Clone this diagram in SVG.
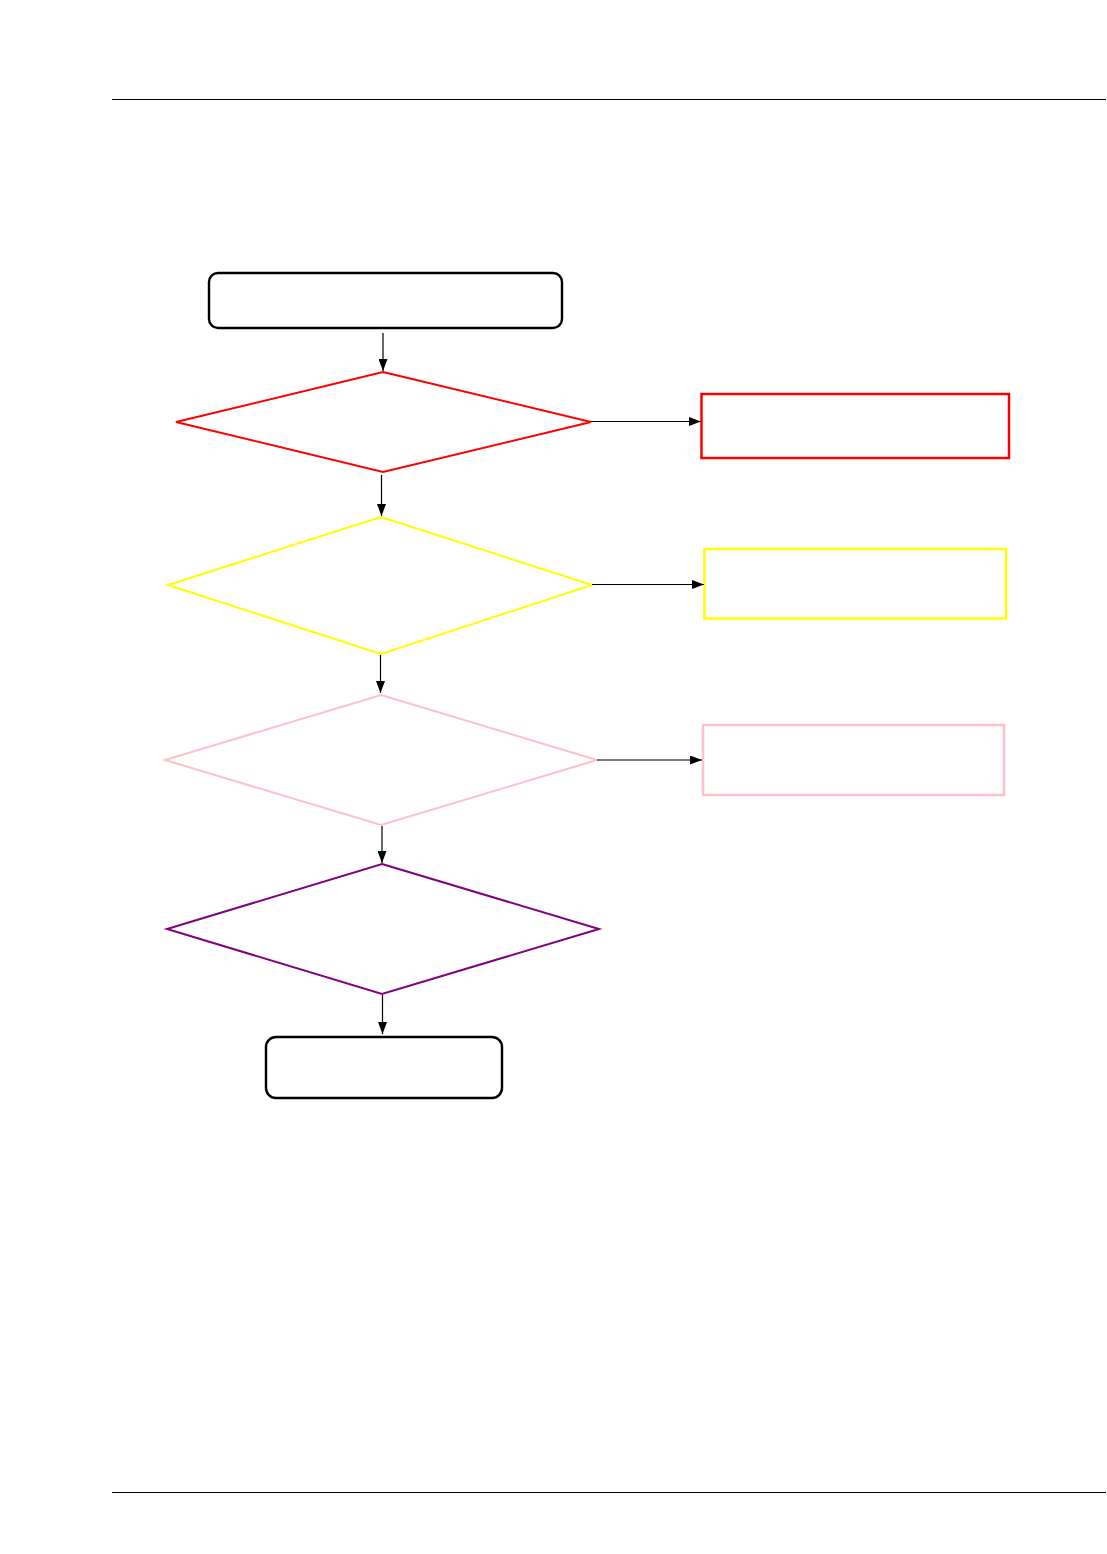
<svg xmlns="http://www.w3.org/2000/svg" width="1107" height="1554" viewBox="0 0 1107 1554">
<style>
.rule{stroke:#000;stroke-width:1.2;fill:none}
.term{fill:#fff;stroke:#000;stroke-width:2.4}
.dia{fill:#fff;stroke-width:2}
.box{fill:#fff;stroke-width:2.5}
.conn{stroke:#000;stroke-width:1.2;fill:none;marker-end:url(#ah)}
</style>
<defs>
<marker id="ah" viewBox="0 0 12 9" refX="12" refY="4.5" markerWidth="12" markerHeight="9" markerUnits="userSpaceOnUse" orient="auto">
<path d="M0,0 L12,4.5 L0,9 Z" fill="#000"/>
</marker>
</defs>
<rect width="1107" height="1554" fill="#fff"/>
<line class="rule" x1="112" y1="99.5" x2="1106" y2="99.5"/>
<line class="rule" x1="112" y1="1492.5" x2="1106" y2="1492.5"/>
<g id="start"><rect class="term" x="209" y="273" width="353" height="55" rx="9"/></g>
<g id="d1"><polygon class="dia" stroke="#ff0000" points="383,372 591,422 383,472 176,422"/></g>
<g id="r1"><rect class="box" stroke="#ff0000" x="701.5" y="394" width="307.5" height="64"/></g>
<g id="d2"><polygon class="dia" stroke="#ffff00" points="381,517 592,585 381,654 168,585"/></g>
<g id="r2"><rect class="box" stroke="#ffff00" x="704.5" y="549" width="301.5" height="69.5"/></g>
<g id="d3"><polygon class="dia" stroke="#ffc0cb" points="381,695 597,760 381,825 165,760"/></g>
<g id="r3"><rect class="box" stroke="#ffc0cb" x="703" y="725" width="301" height="70"/></g>
<g id="d4"><polygon class="dia" stroke="#800080" points="382,864 599,929 382,994 167,929"/></g>
<g id="end"><rect class="term" x="266" y="1037" width="236" height="61" rx="10"/></g>
<g id="connectors">
<line class="conn" x1="383" y1="333" x2="383" y2="371"/>
<line class="conn" x1="591" y1="421.5" x2="701" y2="421.5"/>
<line class="conn" x1="381.5" y1="475" x2="381.5" y2="516"/>
<line class="conn" x1="592" y1="584.5" x2="704" y2="584.5"/>
<line class="conn" x1="380.5" y1="655" x2="380.5" y2="693"/>
<line class="conn" x1="597" y1="760" x2="702" y2="760"/>
<line class="conn" x1="382" y1="826" x2="382" y2="863"/>
<line class="conn" x1="382.5" y1="995" x2="382.5" y2="1034"/>
</g>
</svg>
